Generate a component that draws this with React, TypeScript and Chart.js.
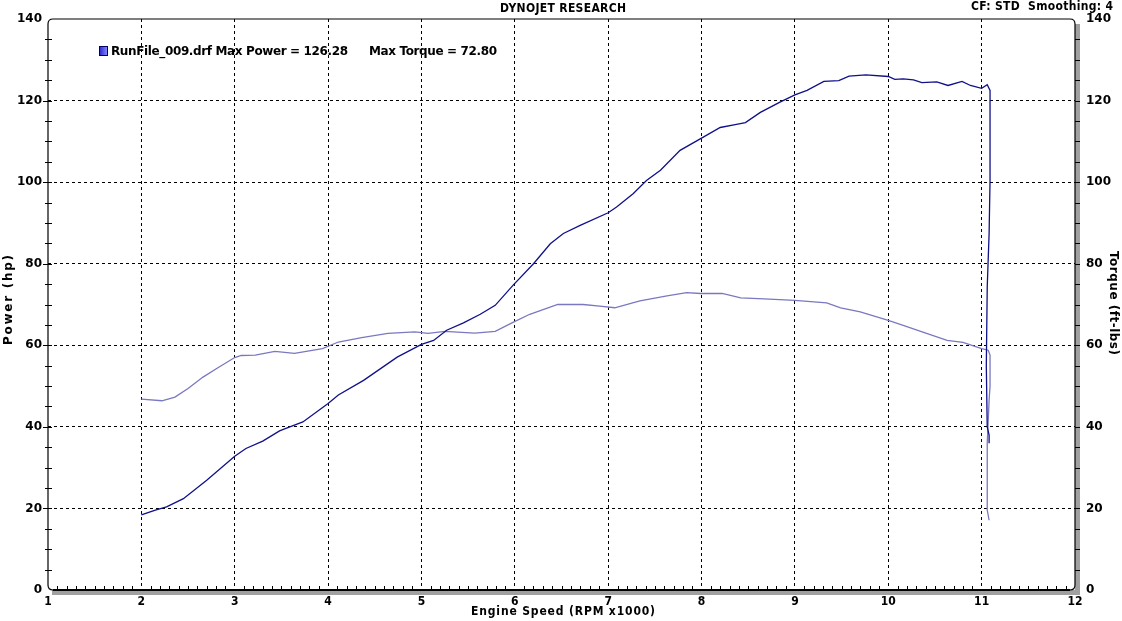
import React, { useEffect, useRef } from "react";
import { Chart, registerables } from "chart.js";

Chart.register(...registerables);

const powerRpm = [2.0, 2.15, 2.27, 2.45, 2.7, 3.0, 3.12, 3.3, 3.48, 3.59, 3.73, 4.0, 4.11, 4.38, 4.74, 5.0, 5.13, 5.27, 5.45, 5.63, 5.79, 5.98, 6.2, 6.38, 6.52, 6.7, 7.0, 7.09, 7.27, 7.41, 7.56, 7.77, 8.0, 8.2, 8.36, 8.47, 8.63, 8.84, 9.0, 9.13, 9.31, 9.47, 9.58, 9.76, 10.0, 10.07, 10.16, 10.27, 10.36, 10.52, 10.64, 10.79, 10.88, 11.0, 11.06, 11.09, 11.09, 11.08, 11.06, 11.05, 11.06, 11.08, 11.08];
const powerHp = [18.4, 19.6, 20.4, 22.4, 26.9, 32.8, 34.7, 36.5, 39.0, 40.0, 41.2, 45.7, 47.8, 51.4, 57.1, 60.2, 61.2, 63.7, 65.5, 67.6, 69.8, 74.7, 80.0, 84.9, 87.4, 89.4, 92.5, 93.9, 97.2, 100.4, 102.9, 107.8, 110.8, 113.4, 114.1, 114.6, 117.1, 119.6, 121.4, 122.5, 124.7, 124.9, 126.0, 126.3, 125.9, 125.2, 125.3, 125.1, 124.4, 124.6, 123.7, 124.7, 123.7, 123.0, 123.9, 122.5, 100.4, 87.4, 74.3, 55.0, 40.0, 38.0, 36.0];

const torqueRpm = [2.0, 2.22, 2.36, 2.5, 2.66, 2.82, 3.0, 3.07, 3.22, 3.43, 3.64, 3.94, 4.11, 4.36, 4.64, 4.93, 5.07, 5.25, 5.57, 5.79, 5.98, 6.16, 6.46, 6.73, 6.91, 7.07, 7.34, 7.63, 7.84, 7.99, 8.22, 8.42, 8.67, 9.0, 9.34, 9.49, 9.7, 10.0, 10.16, 10.41, 10.63, 10.8, 11.0, 11.07, 11.09, 11.09, 11.08, 11.06, 11.06, 11.08];
const torqueFtLbs = [46.8, 46.4, 47.3, 49.4, 52.2, 54.5, 57.0, 57.5, 57.6, 58.5, 58.0, 59.2, 60.8, 61.9, 62.9, 63.3, 62.9, 63.4, 63.0, 63.4, 65.6, 67.6, 70.0, 70.0, 69.6, 69.2, 70.9, 72.1, 72.9, 72.7, 72.7, 71.6, 71.4, 71.0, 70.4, 69.2, 68.2, 66.1, 64.9, 62.9, 61.2, 60.7, 59.2, 58.8, 57.6, 50.0, 46.5, 36.0, 19.6, 17.1];

const xTicks = [1, 2, 3, 4, 5, 6, 7, 8, 9, 10, 11, 12];
const yTicks = [0, 20, 40, 60, 80, 100, 120, 140];

const titleText = "DYNOJET RESEARCH";
const cornerText = "CF: STD  Smoothing: 4";
const legendText = "RunFile_009.drf Max Power = 126.28";
const legendText2 = "Max Torque = 72.80";
const xTitle = "Engine Speed (RPM x1000)";
const yTitle = "Power (hp)";
const y2Title = "Torque (ft-lbs)";

const POWER_COLOR = "#10108a";
const TORQUE_COLOR = "#7a78c0";

// draw text left-aligned starting at x, stretched (via letter spacing) to the given width
function fitText(ctx: CanvasRenderingContext2D, text: string, x: number, y: number, width: number) {
  (ctx as any).letterSpacing = "0px";
  const w = ctx.measureText(text).width;
  const ls = (width - w) / Math.max(1, text.length - 1);
  (ctx as any).letterSpacing = ls.toFixed(2) + "px";
  const prev = ctx.textAlign;
  ctx.textAlign = "left";
  ctx.fillText(text, x, y);
  ctx.textAlign = prev;
  (ctx as any).letterSpacing = "0px";
}

const decorPlugin = {
  id: "decor",
  afterDatasetsDraw(chart: any) {
    const ctx = chart.ctx as CanvasRenderingContext2D;
    const { left, right, top, bottom } = chart.chartArea;
    const xs = chart.scales.x;
    const ys = chart.scales.y;
    ctx.save();
    // shadows
    ctx.fillStyle = "#a0a0a0";
    ctx.fillRect(right, top + 5, 5, bottom - top);
    ctx.fillRect(left + 4, bottom, right - left + 1, 5);
    // frame
    ctx.strokeStyle = "#000";
    ctx.lineWidth = 1.2;
    const r = 5;
    ctx.beginPath();
    ctx.moveTo(left + r, top);
    ctx.lineTo(right - r, top);
    ctx.quadraticCurveTo(right, top, right, top + r);
    ctx.lineTo(right, bottom - r);
    ctx.quadraticCurveTo(right, bottom, right - r, bottom);
    ctx.lineTo(left + r, bottom);
    ctx.quadraticCurveTo(left, bottom, left, bottom - r);
    ctx.lineTo(left, top + r);
    ctx.quadraticCurveTo(left, top, left + r, top);
    ctx.stroke();
    ctx.lineWidth = 2;
    ctx.beginPath();
    ctx.moveTo(left + r, bottom);
    ctx.lineTo(right - r, bottom);
    ctx.stroke();
    // x minor ticks
    ctx.lineWidth = 1;
    ctx.beginPath();
    for (let i = 1; i < 110; i++) {
      const v = 1 + i * 0.1;
      if (i % 10 === 0) continue;
      const px = Math.round(xs.getPixelForValue(v)) + 0.5;
      ctx.moveTo(px, bottom);
      ctx.lineTo(px, bottom - 4);
    }
    // y ticks
    for (let v = 5; v < 140; v += 5) {
      const py = Math.round(ys.getPixelForValue(v)) + 0.5;
      const major = v % 20 === 0;
      ctx.moveTo(major ? left - 5 : left - 3, py);
      ctx.lineTo(left + 4, py);
      ctx.moveTo(right, py);
      ctx.lineTo(right + 5, py);
    }
    ctx.stroke();
    // y labels
    ctx.fillStyle = "#000";
    ctx.font = 'bold 12px "DejaVu Sans", Verdana, sans-serif';
    ctx.textBaseline = "middle";
    for (const v of yTicks) {
      const py = ys.getPixelForValue(v);
      ctx.textAlign = "right";
      ctx.fillText(String(v), left - 6, py);
      ctx.textAlign = "left";
      ctx.fillText(String(v), right + 11, py);
    }
    // x labels
    ctx.font = 'bold 12px "DejaVu Sans Condensed", "Liberation Sans Narrow", "DejaVu Sans", sans-serif';
    ctx.textAlign = "center";
    ctx.textBaseline = "middle";
    for (const v of xTicks) {
      ctx.fillText(String(v), xs.getPixelForValue(v), bottom + 12);
    }
    // x title
    fitText(ctx, xTitle, 471, 612, 184);
    // title
    fitText(ctx, titleText, 500, 9, 126);
    fitText(ctx, cornerText, 971, 7, 142);
    // axis titles
    ctx.font = 'bold 12px "DejaVu Sans", Verdana, sans-serif';
    ctx.save();
    ctx.translate(9, 300);
    ctx.rotate(-Math.PI / 2);
    fitText(ctx, yTitle, -45, 0, 90);
    ctx.restore();
    ctx.save();
    ctx.translate(1113, 303);
    ctx.rotate(Math.PI / 2);
    fitText(ctx, y2Title, -52, 0, 104);
    ctx.restore();
    // legend
    const g = ctx.createLinearGradient(99, 0, 108, 0);
    g.addColorStop(0, "#2020d0");
    g.addColorStop(1, "#9090ff");
    ctx.fillStyle = g;
    ctx.fillRect(99, 46, 9, 10);
    ctx.strokeStyle = "#000060";
    ctx.lineWidth = 1;
    ctx.strokeRect(99.5, 46.5, 8, 9);
    ctx.fillStyle = "#000";
    ctx.font = 'bold 12px "DejaVu Sans", Verdana, sans-serif';
    ctx.textBaseline = "middle";
    fitText(ctx, legendText, 111, 52, 237);
    fitText(ctx, legendText2, 369, 52, 128);
    ctx.restore();
  },
};

export default function App() {
  const ref = useRef<HTMLCanvasElement>(null);
  useEffect(() => {
    document.body.style.margin = "0";
    const canvas = ref.current!;
    const chart = new Chart(canvas, {
      type: "line",
      data: {
        datasets: [
          {
            label: "Power",
            data: powerRpm.map((x, i) => ({ x, y: powerHp[i] })),
            borderColor: POWER_COLOR,
            borderWidth: 1.3,
            pointRadius: 0,
            fill: false,
            tension: 0,
            yAxisID: "y",
          },
          {
            label: "Torque",
            data: torqueRpm.map((x, i) => ({ x, y: torqueFtLbs[i] })),
            borderColor: TORQUE_COLOR,
            borderWidth: 1.3,
            pointRadius: 0,
            fill: false,
            tension: 0,
            yAxisID: "y2",
          },
        ],
      },
      options: {
        animation: false,
        responsive: false,
        maintainAspectRatio: false,
        parsing: false as any,
        layout: { padding: { top: 19, left: 0, right: 0, bottom: 0 } },
        plugins: { legend: { display: false }, title: { display: false }, tooltip: { enabled: false } },
        scales: {
          x: {
            type: "linear",
            min: 1,
            max: 12,
            ticks: { stepSize: 1, display: false },
            grid: {
              drawTicks: false,
              color: (c: any) => (c.tick && (c.tick.value === 1 || c.tick.value === 12) ? "rgba(0,0,0,0)" : "#000"),
              lineWidth: 1,
            },
            border: { display: false, dash: [3, 3] },
            afterFit: (s: any) => {
              s.height = 31;
            },
          },
          y: {
            type: "linear",
            position: "left",
            min: 0,
            max: 140,
            ticks: { stepSize: 20, display: false },
            grid: {
              drawTicks: false,
              color: (c: any) => (c.tick && (c.tick.value === 0 || c.tick.value === 140) ? "rgba(0,0,0,0)" : "#000"),
              lineWidth: 1,
            },
            border: { display: false, dash: [3, 3] },
            afterFit: (s: any) => {
              s.width = 48;
            },
          },
          y2: {
            type: "linear",
            position: "right",
            min: 0,
            max: 140,
            ticks: { stepSize: 20, display: false },
            grid: { display: false, drawTicks: false },
            border: { display: false },
            afterFit: (s: any) => {
              s.width = 47;
            },
          },
        },
      },
      plugins: [decorPlugin],
    });
    return () => chart.destroy();
  }, []);
  return (
    <div style={{ position: "absolute", left: 0, top: 0, width: 1122, height: 621, background: "#fff" }}>
      <canvas ref={ref} width={1122} height={621} style={{ width: 1122, height: 621, display: "block" }} />
    </div>
  );
}
